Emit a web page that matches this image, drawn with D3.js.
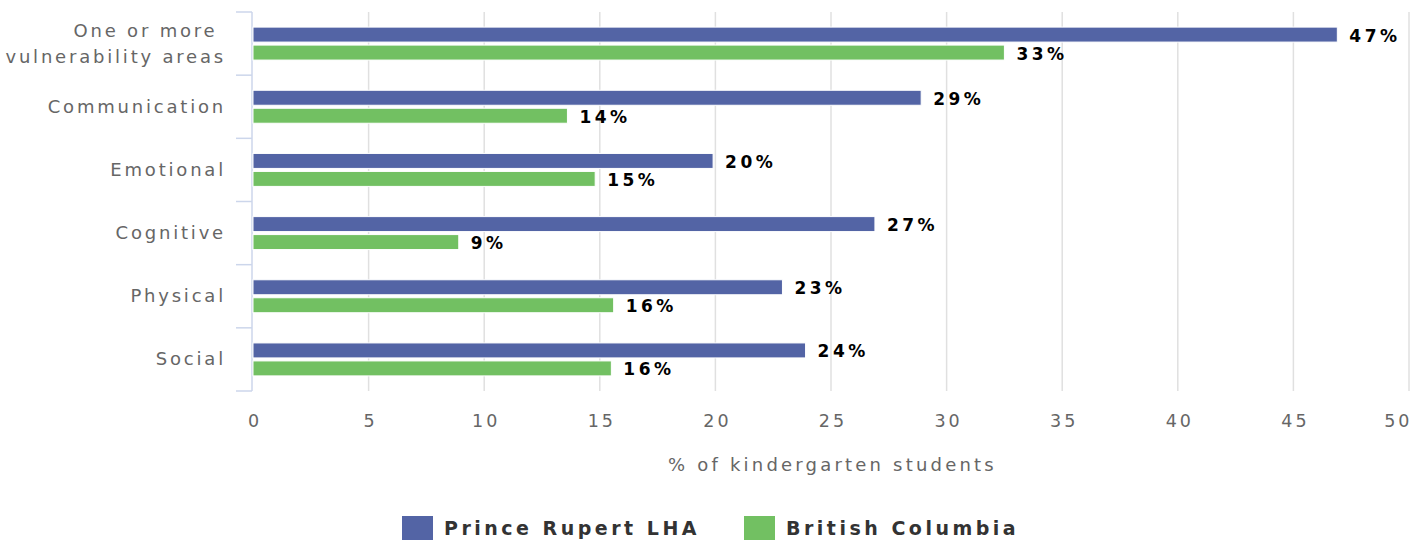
<!DOCTYPE html>
<html>
<head>
<meta charset="utf-8">
<script src="https://cdn.jsdelivr.net/npm/d3@7"></script>
<style>
  body { margin: 0; background: #fff; }
  svg text { font-family: "DejaVu Sans", sans-serif; }
</style>
</head>
<body>
<svg id="canvas"></svg>
<script>
// chart data
const categories = ['One or more vulnerability areas', 'Communication', 'Emotional', 'Cognitive', 'Physical', 'Social'];
const seriesNames = ['Prince Rupert LHA', 'British Columbia'];
const princeRupert = [46.9, 28.9, 19.9, 26.9, 22.9, 23.9];
const britishColumbia = [32.5, 13.6, 14.8, 8.9, 15.6, 15.5];
const princeRupertLabels = ['47%', '29%', '20%', '27%', '23%', '24%'];
const britishColumbiaLabels = ['33%', '14%', '15%', '9%', '16%', '16%'];
const xTicks = [0, 5, 10, 15, 20, 25, 30, 35, 40, 45, 50];
const colors = ['#5364a5', '#72c062'];

const width = 1424;
const height = 542;
const margin = { top: 12, right: 15, bottom: 151, left: 253 };

let canvas = d3.select('#canvas')
  .attr('width', width)
  .attr('height', height);

let xScale = d3.scaleLinear()
  .domain([0, 50])
  .range([margin.left, width - margin.right]);

let yScale = d3.scaleBand()
  .domain(categories)
  .range([margin.top, height - margin.bottom]);

let seriesScale = d3.scaleBand()
  .domain(seriesNames)
  .range([0, yScale.bandwidth()])
  .paddingInner(0.167)
  .paddingOuter(0.84);

// gridlines
canvas.append('g')
  .selectAll('line')
  .data(xTicks.slice(1))
  .enter()
  .append('line')
  .attr('x1', d => xScale(d))
  .attr('x2', d => xScale(d))
  .attr('y1', margin.top)
  .attr('y2', height - margin.bottom)
  .attr('stroke', '#e0e0e0')
  .attr('stroke-width', 1.5);

// x axis labels
let xAxis = d3.axisBottom(xScale).tickValues(xTicks).tickSize(0).tickPadding(24);
let xg = canvas.append('g')
  .attr('transform', `translate(0, ${height - margin.bottom})`)
  .call(xAxis);
xg.select('.domain').remove();
xg.selectAll('text')
  .attr('fill', '#666')
  .attr('dx', '1.5px')
  .style('font-size', '17.5px')
  .style('letter-spacing', '3px');
// last label is kept inside the plot, like the original
xg.selectAll('.tick').filter(d => d === 50).select('text')
  .attr('text-anchor', 'end')
  .attr('dx', '3px');

// y axis with ticks at category boundaries
let yAxisG = canvas.append('g');
let bounds = categories.map(c => yScale(c)).concat([yScale.range()[1]]);
yAxisG.append('line')
  .attr('x1', margin.left - 1).attr('x2', margin.left - 1)
  .attr('y1', margin.top).attr('y2', height - margin.bottom)
  .attr('stroke', '#ccd6eb').attr('stroke-width', 1.5);
yAxisG.selectAll('.ytick')
  .data(bounds)
  .enter()
  .append('line')
  .attr('class', 'ytick')
  .attr('x1', margin.left - 17).attr('x2', margin.left - 1)
  .attr('y1', d => d).attr('y2', d => d)
  .attr('stroke', '#ccd6eb').attr('stroke-width', 1.5);

// category labels
let labelX = margin.left - 27;
let catLabels = yAxisG.selectAll('.ylabel')
  .data(categories)
  .enter()
  .append('text')
  .attr('class', 'ylabel')
  .attr('text-anchor', 'end')
  .attr('fill', '#666')
  .style('font-size', '18px')
  .style('letter-spacing', '2.8px')
  .attr('x', labelX)
  .attr('y', d => yScale(d) + yScale.bandwidth() / 2 + 6);

catLabels.each(function (d) {
  let el = d3.select(this);
  if (d === 'One or more vulnerability areas') {
    el.append('tspan').attr('x', labelX).attr('dy', -13).text('One or more ');
    el.append('tspan').attr('x', labelX).attr('dy', 26).text('vulnerability areas');
  } else {
    el.text(d);
  }
});

// bars
let seriesData = [princeRupert, britishColumbia];
let seriesLabels = [princeRupertLabels, britishColumbiaLabels];

seriesData.forEach((values, s) => {
  let g = canvas.append('g');
  g.selectAll('rect')
    .data(values)
    .enter()
    .append('rect')
    .attr('x', xScale(0))
    .attr('y', (d, i) => yScale(categories[i]) + seriesScale(seriesNames[s]))
    .attr('width', d => xScale(d) - xScale(0))
    .attr('height', seriesScale.bandwidth())
    .attr('fill', colors[s])
    .attr('stroke', '#fff')
    .attr('stroke-width', 1);

  g.selectAll('text')
    .data(values)
    .enter()
    .append('text')
    .attr('x', d => xScale(d) + 12)
    .attr('y', (d, i) => yScale(categories[i]) + seriesScale(seriesNames[s]) + seriesScale.bandwidth() / 2 + 7)
    .attr('fill', '#000')
    .style('font-size', '17px')
    .style('font-weight', 'bold')
    .style('letter-spacing', '3.5px')
    .text((d, i) => seriesLabels[s][i]);
});

// axis title
canvas.append('text')
  .attr('x', (xScale(0) + xScale(50)) / 2 + 1.5)
  .attr('y', 471)
  .attr('text-anchor', 'middle')
  .attr('fill', '#666')
  .style('font-size', '18px')
  .style('letter-spacing', '3.2px')
  .text('% of kindergarten students');

// legend
let legendX = [402, 744];
let legend = canvas.append('g');
seriesNames.forEach((name, i) => {
  legend.append('rect')
    .attr('x', legendX[i])
    .attr('y', 516)
    .attr('width', 31)
    .attr('height', 24)
    .attr('fill', colors[i]);
  legend.append('text')
    .attr('x', legendX[i] + 42)
    .attr('y', 535)
    .attr('fill', '#333')
    .style('font-size', '19px')
    .style('font-weight', 'bold')
    .style('letter-spacing', '3.5px')
    .text(name);
});
</script>
</body>
</html>
